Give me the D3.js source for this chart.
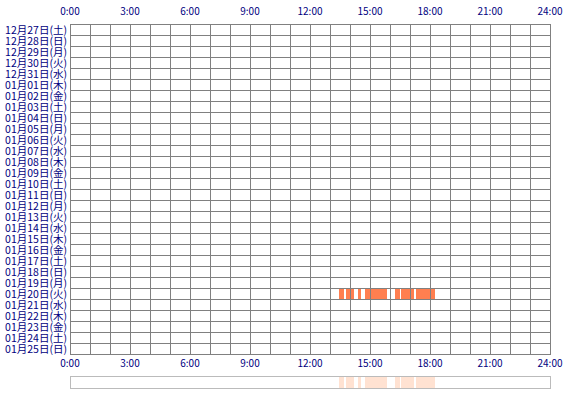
<!DOCTYPE html>
<html>
<head>
<meta charset="utf-8">
<title>Activity</title>
<script src="https://d3js.org/d3.v7.min.js"></script>
<style>
  body { margin: 0; background: #fff; }
  text { font-family: "Noto Sans CJK JP", sans-serif; fill: #000080; }
</style>
</head>
<body>
<div id="chart"></div>
<script>
  // days shown (one row each)
  var dayLabels = [
    "12月27日(土)", "12月28日(日)", "12月29日(月)", "12月30日(火)", "12月31日(水)",
    "01月01日(木)", "01月02日(金)", "01月03日(土)", "01月04日(日)", "01月05日(月)",
    "01月06日(火)", "01月07日(水)", "01月08日(木)", "01月09日(金)", "01月10日(土)",
    "01月11日(日)", "01月12日(月)", "01月13日(火)", "01月14日(水)", "01月15日(木)",
    "01月16日(金)", "01月17日(土)", "01月18日(日)", "01月19日(月)", "01月20日(火)",
    "01月21日(水)", "01月22日(木)", "01月23日(金)", "01月24日(土)", "01月25日(日)"
  ];
  var hourTicks = [0, 3, 6, 9, 12, 15, 18, 21, 24];
  var tickLabels = ["0:00", "3:00", "6:00", "9:00", "12:00", "15:00", "18:00", "21:00", "24:00"];

  // active periods: day, start, end
  var sessionDays = ["01月20日(火)", "01月20日(火)", "01月20日(火)", "01月20日(火)", "01月20日(火)", "01月20日(火)", "01月20日(火)"];
  var sessionStart = ["13:27", "13:48", "14:24", "14:45", "16:15", "16:33", "17:18"];
  var sessionEnd = ["13:42", "14:12", "14:33", "15:51", "16:30", "17:12", "18:15"];

  function toHours(s) {
    var p = s.split(":");
    return +p[0] + p[1] / 60;
  }
  var sessions = sessionStart.map(function (s, i) {
    return { day: sessionDays[i], start: toHours(s), end: toHours(sessionEnd[i]) };
  });

  var width = 570, height = 400;
  var svg = d3.select("#chart").append("svg")
    .attr("width", width)
    .attr("height", height);

  var x = d3.scaleLinear().domain([0, 24]).range([70, 550]);
  var y = d3.scaleBand().domain(dayLabels).range([24, 354]);

  // bars
  svg.selectAll(".bar")
    .data(sessions)
    .join("rect")
    .attr("class", "bar")
    .attr("x", function (d) { return x(d.start); })
    .attr("y", function (d) { return y(d.day); })
    .attr("width", function (d) { return x(d.end) - x(d.start); })
    .attr("height", y.bandwidth())
    .attr("fill", "#ff7f50");

  // grid
  var grid = svg.append("g").attr("stroke", "#808080").attr("stroke-width", 1).attr("shape-rendering", "crispEdges");
  grid.selectAll(".v")
    .data(d3.range(0, 25))
    .join("line")
    .attr("x1", function (d) { return Math.round(x(d)) + 0.5; })
    .attr("x2", function (d) { return Math.round(x(d)) + 0.5; })
    .attr("y1", 24)
    .attr("y2", 354);
  grid.selectAll(".h")
    .data(d3.range(0, dayLabels.length + 1))
    .join("line")
    .attr("x1", 70)
    .attr("x2", 551)
    .attr("y1", function (d) { return 24 + d * y.step() + 0.5; })
    .attr("y2", function (d) { return 24 + d * y.step() + 0.5; });

  // row labels
  svg.selectAll(".day")
    .data(dayLabels)
    .join("text")
    .attr("class", "day")
    .attr("x", 67)
    .attr("y", function (d) { return y(d) + y.bandwidth() / 2 + 4; })
    .attr("text-anchor", "end")
    .attr("font-size", 10.5)
    .text(function (d) { return d; });

  // hour labels top and bottom
  [15, 367].forEach(function (ty) {
    svg.append("g").selectAll("text")
      .data(hourTicks)
      .join("text")
      .attr("x", function (d) { return x(d); })
      .attr("y", ty)
      .attr("text-anchor", "middle")
      .attr("font-size", 10)
      .text(function (d, i) { return tickLabels[i]; });
  });

  // summary strip
  svg.selectAll(".sum")
    .data(sessions)
    .join("rect")
    .attr("class", "sum")
    .attr("x", function (d) { return x(d.start); })
    .attr("y", 377)
    .attr("width", function (d) { return x(d.end) - x(d.start); })
    .attr("height", 11)
    .attr("fill", "#ffe2d2");

  svg.append("rect")
    .attr("x", 70.5)
    .attr("y", 376.5)
    .attr("width", 480)
    .attr("height", 12)
    .attr("fill", "none")
    .attr("stroke", "#bbbbbb")
    .attr("shape-rendering", "crispEdges");
</script>
</body>
</html>
